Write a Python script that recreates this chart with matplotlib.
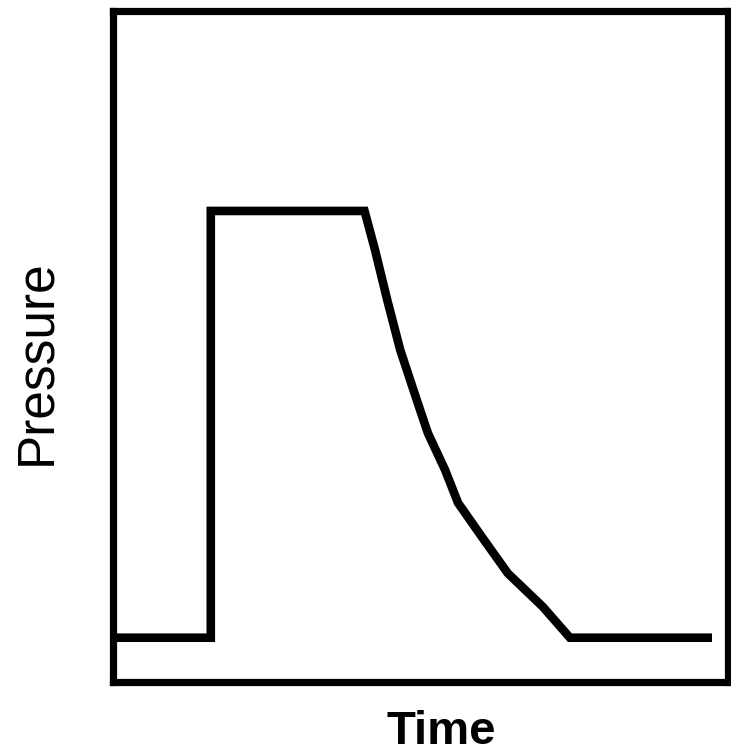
import matplotlib
matplotlib.use("Agg")
import matplotlib.pyplot as plt

# Pressure pulse: baseline, sudden rise, plateau, then decay back to baseline
time = [0.00, 1.59, 1.59, 4.09, 4.26, 4.46, 4.67, 4.94, 5.12, 5.40, 5.61,
        6.00, 6.42, 6.99, 7.43, 9.74]
pressure = [0.66, 0.66, 7.02, 7.02, 6.44, 5.69, 4.95, 4.20, 3.71, 3.16, 2.67,
            2.16, 1.62, 1.12, 0.66, 0.66]

fig = plt.figure(figsize=(7.31, 7.54), dpi=100)
ax = fig.add_axes([113 / 731, 72 / 754, 615 / 731, 671 / 754])

ax.plot(time, pressure, color="black", linewidth=6.2,
        solid_capstyle="butt", solid_joinstyle="miter")

ax.set_xlim(0, 10)
ax.set_ylim(0, 10)
ax.set_xticks([])
ax.set_yticks([])
for side in ax.spines.values():
    side.set_linewidth(5.2)
    side.set_color("black")

fig.text(37 / 731, 1 - 362 / 754, "Pressure", rotation=90, ha="center", va="center",
         family="Liberation Sans", fontsize=37)
fig.text(441 / 731, 1 - 732 / 754, "Time", ha="center", va="center",
         family="Liberation Sans", fontweight="bold", fontsize=34)

fig.savefig("out.png", dpi=100)
